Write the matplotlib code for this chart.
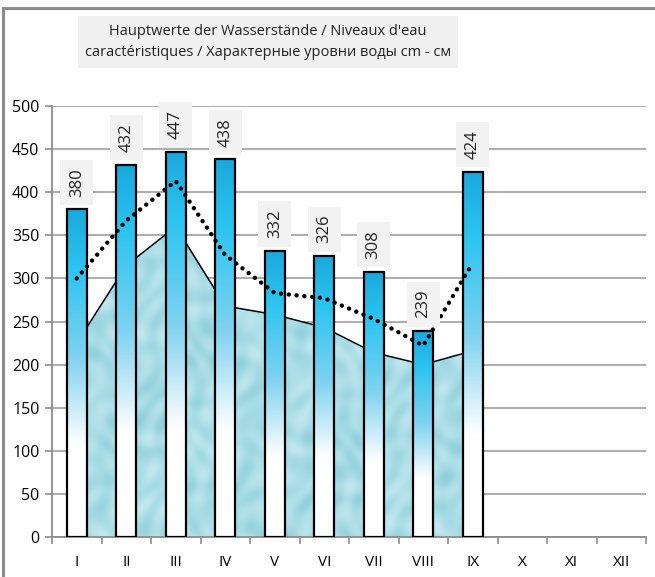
import numpy as np
import matplotlib.pyplot as plt
from matplotlib.colors import LinearSegmentedColormap
from matplotlib.patches import Rectangle
from matplotlib.lines import Line2D

# Monatsnamen / mois
months = ["I", "II", "III", "IV", "V", "VI", "VII", "VIII", "IX", "X", "XI", "XII"]

# Werte (cm)
highest = [380, 432, 447, 438, 332, 326, 308, 239, 424]
mean_line = [300, 367, 413, 327, 283, 277, 253, 222, 318]
lowest = [225, 315, 360, 268, 258, 243, 214, 200, 216]

title = ("Hauptwerte der Wasserstände / Niveaux d'eau\n"
         "caractéristiques / Характерные уровни воды cm - см")

plt.rcParams['font.family'] = ['Open Sans', 'DejaVu Sans']

fig = plt.figure(figsize=(6.55, 5.77), dpi=100)
ax = fig.add_axes([52 / 655, 1 - 537 / 577, (646 - 52) / 655, (537 - 106) / 577])

n = len(highest)
x = np.arange(n)
bw = 0.4

# Fläche mit "Wasser"-Textur
yy, xx = np.mgrid[0:300, 0:600]
tex = (np.sin(xx / 11.0 + np.cos(yy / 15.0) * 2.5) * np.cos(yy / 9.0 + np.sin(xx / 19.0) * 2.0)
       + 0.6 * np.sin((xx + 2 * yy) / 13.0) * np.cos((2 * xx - yy) / 23.0))
water = LinearSegmentedColormap.from_list("water", ["#8fcfdb", "#aadde6", "#c4e8ef"])
poly = ax.fill_between(x, lowest, 0, color="#a9dde6", lw=0, zorder=1)
img = ax.imshow(tex, cmap=water, extent=[x[0], x[-1], 0, max(lowest)], aspect="auto",
                zorder=1, interpolation="bicubic")
img.set_clip_path(poly.get_paths()[0], transform=ax.transData)
ax.plot(x, lowest, color="black", lw=1.1, zorder=2)

# Balken mit Verlauf
bar_cmap = LinearSegmentedColormap.from_list(
    "bars", [(0.0, "white"), (0.28, "white"), (0.55, "#7fd2f0"),
             (0.82, "#2cc4f0"), (1.0, "#1ba8dc")])
grad = np.linspace(0, 1, 256).reshape(-1, 1)
for xi, h in zip(x, highest):
    ax.imshow(grad, cmap=bar_cmap, origin="lower", aspect="auto",
              extent=[xi - bw / 2, xi + bw / 2, 0, h], zorder=3)
    ax.add_patch(Rectangle((xi - bw / 2, 0), bw, h, fill=False,
                           edgecolor="black", lw=1.6, zorder=3.5))
    ax.annotate(str(h), (xi, h), xytext=(0, 9), textcoords="offset points",
                rotation=90, ha="center", va="bottom", fontsize=12, color="#222222",
                bbox=dict(boxstyle="square,pad=0.5", fc="#f2f2f2", ec="none"),
                zorder=5)

# punktierte Linie
ax.plot(x, mean_line, color="black", lw=3.2, linestyle=(0, (0.01, 1.75)),
        dash_capstyle="round", zorder=4)

ax.set_xlim(-0.5, 11.5)
ax.set_ylim(0, 500)
ax.set_yticks(np.arange(0, 501, 50))
ax.set_xticks(np.arange(12))
ax.set_xticklabels(months)
ax.set_xticks(np.arange(-0.5, 12, 1), minor=True)
ax.tick_params(axis="x", which="major", length=0, pad=13, labelsize=11)
ax.tick_params(axis="x", which="minor", length=5, color="#8c8c8c", width=1.2)
ax.tick_params(axis="y", length=5, color="#8c8c8c", width=1.2, labelsize=11.5, pad=4)
ax.yaxis.grid(True, color="#a6a6a6", lw=1.3)
ax.set_axisbelow(True)
for s in ["top", "right"]:
    ax.spines[s].set_visible(False)
for s in ["left", "bottom"]:
    ax.spines[s].set_color("#8c8c8c")
    ax.spines[s].set_linewidth(1.3)

fig.text(268 / 655, 1 - 42 / 577, title, ha="center", va="center", fontsize=10.5,
         linespacing=1.6, color="#222222",
         bbox=dict(boxstyle="square,pad=0.5", fc="#f0f0f0", ec="none"))

# Rahmen
fig.add_artist(Line2D([3 / 655, 3 / 655], [0, 1 - 8 / 577], color="#8c8c8c", lw=2.2,
                      transform=fig.transFigure))
fig.add_artist(Line2D([3 / 655, 1], [1 - 8 / 577, 1 - 8 / 577], color="#8c8c8c", lw=2.2,
                      transform=fig.transFigure))

fig.savefig("out.png", dpi=100)
